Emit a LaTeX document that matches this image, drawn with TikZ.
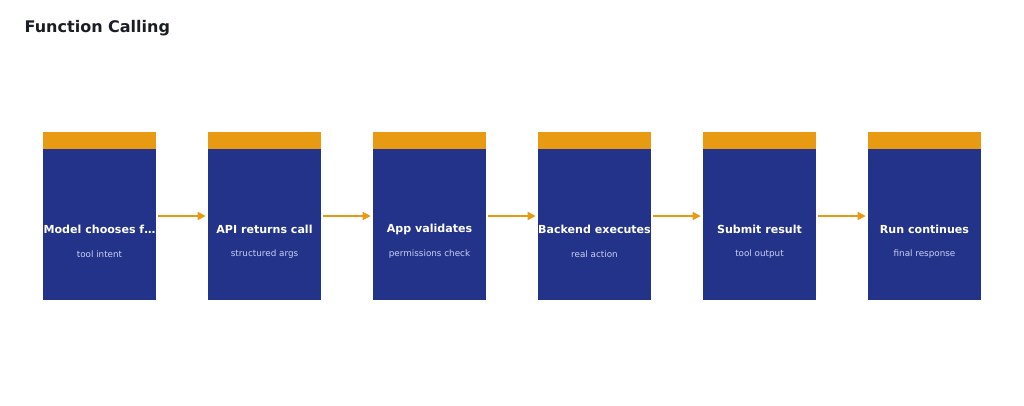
\documentclass[tikz,border=0pt]{standalone}
\usepackage{fontspec}
\setmainfont{DejaVu Sans}
\usetikzlibrary{arrows.meta, positioning}
\definecolor{stepblue}{HTML}{233389}
\definecolor{steporange}{HTML}{E89B12}
\definecolor{titlegray}{HTML}{1A1D24}
\definecolor{subtext}{HTML}{C9D0F2}
\tikzset{
  stepbox/.style={rectangle, fill=stepblue, minimum width=113*0.75pt, minimum height=168*0.75pt, inner sep=0pt,
    path picture={\fill[steporange] (path picture bounding box.north west) rectangle ([yshift=-17*0.75pt]path picture bounding box.north east);}},
  steptitle/.style={text=white, font=\bfseries\fontsize{8.3}{10}\selectfont},
  stepsub/.style={text=subtext, font=\fontsize{6.6}{8}\selectfont},
  flow/.style={very thick, draw=steporange, -{Triangle[length=6pt,width=6pt]}}
}
\begin{document}
\begin{tikzpicture}[x=0.75pt,y=-0.75pt]
\useasboundingbox (0,0) rectangle (1024,405);
\node[anchor=west, text=titlegray, font=\bfseries\fontsize{12}{14}\selectfont] (title) at (20,28) {Function Calling};

% steps
\foreach \i/\head/\sub in {1/Model chooses f\dots/tool intent, 2/API returns call/structured args,
    3/App validates/permissions check, 4/Backend executes/real action,
    5/Submit result/tool output, 6/Run continues/final response} {
  \node[stepbox] (s\i) at ({99.5+165*(\i-1)},216) {};
  \node[steptitle] (h\i) at ([yshift=-13*0.75pt]s\i.center) {\head};
  \node[stepsub] (t\i) at ([yshift=-38*0.75pt]s\i.center) {\sub};
}

\foreach \i [evaluate=\i as \j using int(\i+1)] in {1,...,5}
  \draw[flow] ([xshift=2*0.75pt]s\i.east) -- ([xshift=-2*0.75pt]s\j.west);

\end{tikzpicture}
\end{document}
